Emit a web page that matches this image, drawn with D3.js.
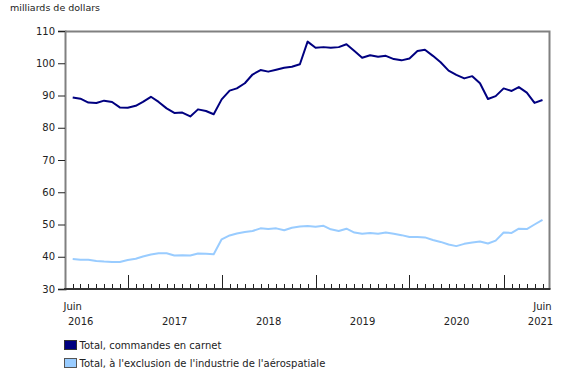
<!DOCTYPE html>
<html>
<head>
<meta charset="utf-8">
<script src="https://cdn.jsdelivr.net/npm/d3@7"></script>
<style>
  body { margin: 0; background: #fff; }
  svg { font-family: "DejaVu Sans", Verdana, sans-serif; }
  text { fill: #222; }
</style>
</head>
<body>
<div id="vis"></div>
<script>
// Data: monthly values, June 2016 to June 2021 (billions of dollars)
var startMonth = new Date(2016, 5, 1);
var endMonth = new Date(2021, 5, 1);

var seriesNames = [
  "Total, commandes en carnet",
  "Total, \u00e0 l'exclusion de l'industrie de l'a\u00e9rospatiale"
];

var backlogTotal = [
  89.4, 89.0, 87.8, 87.7, 88.4, 88.0, 86.3,
  86.2, 86.8, 88.0, 89.6, 88.0, 86.0, 84.6, 84.7, 83.5, 85.7, 85.2, 84.2,
  88.8, 91.5, 92.2, 93.8, 96.5, 97.9, 97.4, 98.0, 98.6, 98.9, 99.7, 106.7,
  104.8, 105.0, 104.8, 105.0, 105.9, 103.8, 101.7, 102.5, 102.0, 102.3, 101.3, 100.9,
  101.5, 103.8, 104.2, 102.3, 100.3, 97.7, 96.4, 95.3, 96.0, 93.8, 88.9, 89.8,
  92.2, 91.4, 92.6, 90.9, 87.7, 88.6
];

var backlogExAero = [
  39.3, 39.1, 39.1, 38.7, 38.5, 38.4, 38.4,
  39.0, 39.4, 40.1, 40.7, 41.1, 41.1, 40.4, 40.5, 40.4, 41.0, 40.9, 40.8,
  45.4, 46.6, 47.2, 47.7, 48.0, 48.8, 48.6, 48.8, 48.2, 49.0, 49.4, 49.5,
  49.3, 49.6, 48.5, 48.0, 48.7, 47.5, 47.1, 47.4, 47.1, 47.5, 47.1, 46.7,
  46.1, 46.1, 46.0, 45.2, 44.6, 43.8, 43.3, 44.0, 44.4, 44.7, 44.1, 45.0,
  47.5, 47.4, 48.7, 48.6, 50.0, 51.4
];

var seriesColors = ["#000080", "#99ccff"];
var yTicks = [30, 40, 50, 60, 70, 80, 90, 100, 110];
var yearLabels = ["2016", "2017", "2018", "2019", "2020", "2021"];
var monthLabel = "Juin";

var width = 580;
var height = 385;
var margin = { top: 31, right: 31, bottom: 96, left: 65 };
var plotRight = width - margin.right;
var plotBottom = height - margin.bottom;

var months = d3.timeMonth.range(startMonth, d3.timeMonth.offset(endMonth, 1));

var x = d3.scaleTime()
  .domain([startMonth, endMonth])
  .range([72.7, 542.5]);

var y = d3.scaleLinear()
  .domain([30, 110])
  .range([plotBottom, margin.top]);

var svg = d3.select("#vis").append("svg")
  .attr("width", width)
  .attr("height", height);

// unit label
svg.append("text")
  .attr("x", 10)
  .attr("y", 11)
  .style("font-size", "9.5px")
  .text("milliards de dollars");

// frame: top and right borders
svg.append("path")
  .attr("d", "M" + margin.left + "," + (margin.top + 0.5) + "H" + (plotRight + 0.5) + "V" + plotBottom)
  .attr("fill", "none")
  .attr("stroke", "#808080")
  .attr("stroke-width", 2);

// y axis
var yAxis = svg.append("g")
  .attr("transform", "translate(" + margin.left + ",0)")
  .call(d3.axisLeft(y).tickValues(yTicks).tickSize(7).tickPadding(3));
yAxis.select(".domain").attr("stroke", "#808080").attr("stroke-width", 2);
yAxis.selectAll(".tick line").attr("stroke", "#222");
yAxis.selectAll("text")
  .style("font-size", "10px")
  .style("font-family", "'DejaVu Sans', Verdana, sans-serif")
  .attr("fill", "#222");

// x axis: monthly ticks drawn upward, bigger ticks at January
var xg = svg.append("g");
xg.selectAll("line.tick")
  .data(months)
  .enter().append("line")
  .attr("class", "tick")
  .attr("x1", function (d) { return Math.round(x(d)) + 0.5; })
  .attr("x2", function (d) { return Math.round(x(d)) + 0.5; })
  .attr("y1", plotBottom)
  .attr("y2", function (d) { return d.getMonth() === 0 ? plotBottom - 14 : plotBottom - 5; })
  .attr("stroke", "#222")
  .attr("stroke-width", 1);

xg.append("line")
  .attr("x1", margin.left - 1)
  .attr("x2", plotRight + 1.5)
  .attr("y1", plotBottom)
  .attr("y2", plotBottom)
  .attr("stroke", "#333")
  .attr("stroke-width", 2);

// month labels at both ends
[startMonth, endMonth].forEach(function (d) {
  svg.append("text")
    .attr("x", x(d))
    .attr("y", plotBottom + 21)
    .attr("text-anchor", "middle")
    .style("font-size", "10px")
    .text(monthLabel);
});

// year labels centred on each year's visible span
yearLabels.forEach(function (yr) {
  var yNum = +yr;
  var cx;
  if (yNum === 2016) cx = x(startMonth) + 8;
  else if (yNum === 2021) cx = x(endMonth) - 2;
  else cx = (x(new Date(yNum, 0, 1)) + x(new Date(yNum + 1, 0, 1))) / 2;
  svg.append("text")
    .attr("x", cx)
    .attr("y", plotBottom + 36)
    .attr("text-anchor", "middle")
    .style("font-size", "10px")
    .text(yr);
});

// lines
var line = d3.line()
  .x(function (d, i) { return x(months[i]); })
  .y(function (d) { return y(d); });

[backlogExAero, backlogTotal].forEach(function (values, k) {
  svg.append("path")
    .datum(values)
    .attr("d", line)
    .attr("fill", "none")
    .attr("stroke", k === 0 ? seriesColors[1] : seriesColors[0])
    .attr("stroke-width", 2)
    .attr("stroke-linejoin", "round");
});

// legend
var legend = svg.append("g");
seriesNames.forEach(function (name, i) {
  var ly = 340.5 + i * 18;
  legend.append("rect")
    .attr("x", 64.5)
    .attr("y", ly)
    .attr("width", 12)
    .attr("height", 9)
    .attr("fill", seriesColors[i])
    .attr("stroke", i === 0 ? "#333" : "#555")
    .attr("stroke-width", 1);
  legend.append("text")
    .attr("x", 79.5)
    .attr("y", ly + 8.5)
    .style("font-size", "10px")
    .text(name);
});
</script>
</body>
</html>
